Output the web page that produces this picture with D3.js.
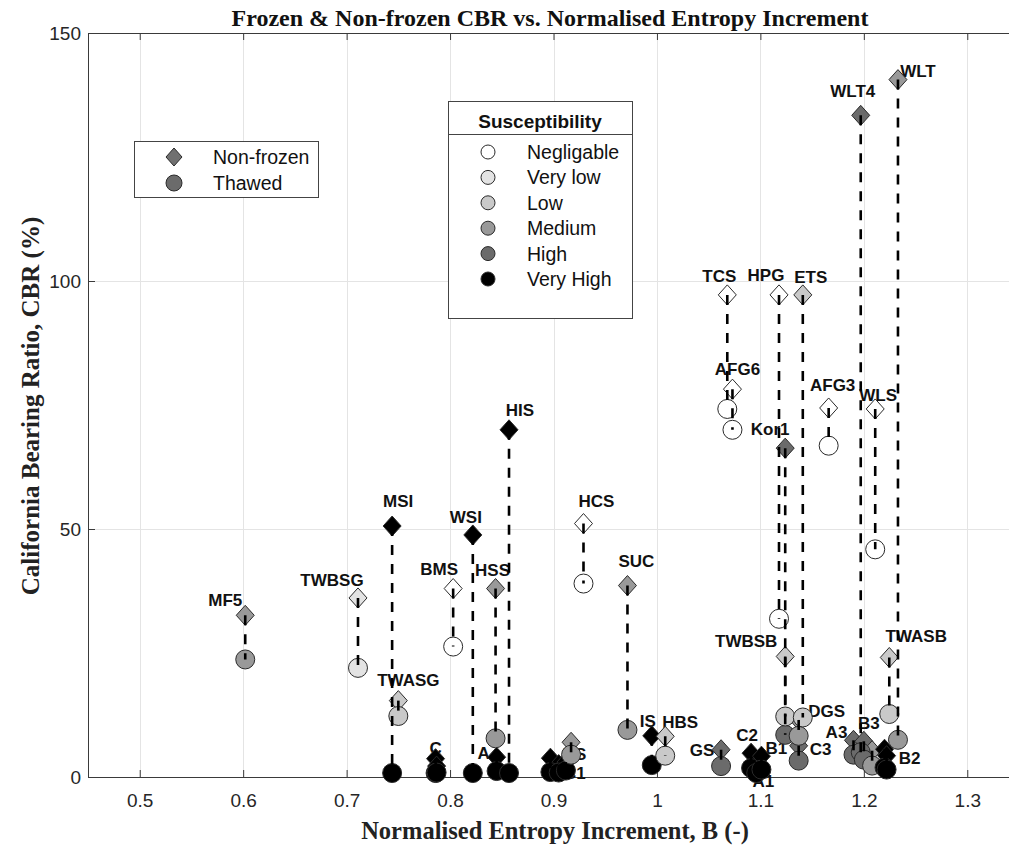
<!DOCTYPE html>
<html>
<head>
<meta charset="utf-8">
<script src="https://cdn.jsdelivr.net/npm/d3@7"></script>
<style>
  body { margin: 0; background: #fff; }
  svg { display: block; }
</style>
</head>
<body>
<svg id="chart" width="1009" height="845"></svg>
<script>
// ---- Data -------------------------------------------------------------
const sampleNames = ["MF5","TWBSG","MSI","TWASG","C","","BMS","WSI","HSS","A","HIS",
  "","","C1","VS","HCS","SUC","IS","HBS","GS","TCS","AFG6","C2","A1","B1","HPG",
  "Kor1","TWBSB","DGS","C3","ETS","AFG3","A3","WLT4","B3","","WLS","B2","","TWASB","WLT"];
const entropyB = [0.602,0.711,0.744,0.750,0.786,0.787,0.803,0.822,0.844,0.845,0.857,
  0.897,0.905,0.912,0.917,0.929,0.9715,0.995,1.008,1.062,1.068,1.073,1.091,1.096,1.101,1.118,
  1.124,1.124,1.137,1.137,1.141,1.166,1.190,1.197,1.200,1.208,1.211,1.220,1.222,1.2246,1.233];
const cbrNonFrozen = [32.6,36.1,50.6,15.4,3.7,2.2,38.0,48.8,38.0,4.0,70.0,
  3.8,2.5,3.0,7.0,51.1,38.6,8.3,8.2,5.5,97.2,78.2,4.8,3.0,4.2,97.2,
  66.3,24.3,11.5,6.3,97.2,74.4,7.4,133.4,7.2,5.3,74.2,5.6,4.3,24.1,140.6];
const cbrThawed = [23.7,22.0,0.8,12.3,0.8,0.9,26.3,0.8,7.8,1.2,0.8,
  1.0,0.9,1.3,4.5,39.0,9.5,2.4,4.3,2.2,74.2,70.0,1.8,0.8,1.5,31.9,
  8.5,12.2,8.3,3.3,12.0,66.8,4.5,5.0,3.5,2.3,45.9,1.9,1.5,12.7,7.5];
// index into susceptibilityClasses
const susceptibility = [3,1,5,2,5,5,0,5,3,5,5,
  5,5,5,3,0,3,5,2,4,0,0,5,5,5,0,
  4,2,3,4,2,0,4,4,4,3,0,5,5,2,3];
const susceptibilityClasses = ["Negligable","Very low","Low","Medium","High","Very High"];
const markerTypes = ["Non-frozen","Thawed"];

const xTicks = [0.5,0.6,0.7,0.8,0.9,1.0,1.1,1.2,1.3];
const xTickLabels = ["0.5","0.6","0.7","0.8","0.9","1","1.1","1.2","1.3"];
const yTicks = [0,50,100,150];
const yTickLabels = ["0","50","100","150"];

// ---- Layout / style ---------------------------------------------------
const fills = ["#ffffff","#e3e3e3","#c9c9c9","#999999","#6b6b6b","#000000"];
// label anchor nudges (px) relative to the non-frozen marker
const labelNudge = {
  MF5:[-20,-9], TWBSG:[-26,-12], MSI:[6,-19], TWASG:[10,-15], C:[0,-5], BMS:[-14,-14],
  WSI:[-7,-12], HSS:[-3,-13], A:[-13,2], HIS:[11,-14], C1:[9,17], VS:[4,18],
  HCS:[13,-17], SUC:[9,-19], IS:[-4,-9], HBS:[15,-8], GS:[-19,6], TCS:[-8,-13],
  AFG6:[5,-14], C2:[-4,-12], A1:[7,25], B1:[15,-2], HPG:[-13,-14], Kor1:[-15,-13],
  TWBSB:[-39,-9], DGS:[28,-3], C3:[22,9], ETS:[8,-12], AFG3:[4,-17], A3:[-17,-2],
  WLT4:[-8,-18], B3:[5,-12], WLS:[3,-8], B2:[25,15], TWASB:[27,-15], WLT:[20,-3]
};

const svg = d3.select("#chart");
const plot = { left: 88, right: 1019, top: 33, bottom: 777 };

const x = d3.scaleLinear().domain([0.45, 1.35]).range([plot.left, plot.right]);
const y = d3.scaleLinear().domain([0, 150]).range([plot.bottom, plot.top]);

const samples = sampleNames.map((n, i) => ({
  name: n, b: entropyB[i], nf: cbrNonFrozen[i], th: cbrThawed[i], s: susceptibility[i]
}));

const sans = "'Liberation Sans', Arial, Helvetica, sans-serif";
const serif = "'Liberation Serif', 'Times New Roman', serif";
const diamond = (hw, hh) => `M0,${-hh}L${hw},0L0,${hh}L${-hw},0Z`;

// ---- Grid ------------------------------------------------------------
const grid = svg.append("g").attr("stroke", "#e4e4e4").attr("stroke-width", 1);
grid.selectAll("line.vx").data(xTicks).join("line")
  .attr("x1", d => Math.round(x(d)) + 0.5).attr("x2", d => Math.round(x(d)) + 0.5)
  .attr("y1", plot.top).attr("y2", plot.bottom);
grid.selectAll("line.hy").data(yTicks.filter(d => d > 0 && d < 150)).join("line")
  .attr("y1", d => Math.round(y(d)) + 0.5).attr("y2", d => Math.round(y(d)) + 0.5)
  .attr("x1", plot.left).attr("x2", plot.right);

// ---- Axes ------------------------------------------------------------
const axisColor = "#3a3a3a";
const gx = svg.append("g").attr("transform", `translate(0,${plot.bottom})`)
  .call(d3.axisBottom(x).tickValues(xTicks).tickFormat((d, i) => xTickLabels[i])
    .tickSizeInner(-7).tickSizeOuter(0).tickPadding(17));
const gxTop = svg.append("g").attr("transform", `translate(0,${plot.top})`)
  .call(d3.axisTop(x).tickValues(xTicks).tickFormat("").tickSizeInner(-7).tickSizeOuter(0));
const gy = svg.append("g").attr("transform", `translate(${plot.left},0)`)
  .call(d3.axisLeft(y).tickValues(yTicks).tickFormat((d, i) => yTickLabels[i])
    .tickSizeInner(-7).tickSizeOuter(0).tickPadding(7));
[gx, gxTop, gy].forEach(g => {
  g.select(".domain").attr("stroke", axisColor);
  g.selectAll(".tick line").attr("stroke", axisColor);
  g.selectAll(".tick text").attr("fill", "#262626")
    .style("font-family", sans).style("font-size", "19px");
});

// ---- Titles ----------------------------------------------------------
svg.append("text").attr("x", 550).attr("y", 26).attr("text-anchor", "middle")
  .style("font-family", serif).style("font-weight", "bold").style("font-size", "24px")
  .attr("fill", "#111")
  .text("Frozen & Non-frozen CBR vs. Normalised Entropy Increment");
svg.append("text").attr("x", 555).attr("y", 839).attr("text-anchor", "middle")
  .style("font-family", serif).style("font-weight", "bold").style("font-size", "24.5px")
  .attr("fill", "#222")
  .text("Normalised Entropy Increment, B (-)");
svg.append("text").attr("transform", "translate(39,406) rotate(-90)").attr("text-anchor", "middle")
  .style("font-family", serif).style("font-weight", "bold").style("font-size", "25px")
  .attr("fill", "#222")
  .text("California Bearing Ratio, CBR (%)");

// ---- Sample labels (under the marks) ---------------------------------
svg.append("g").selectAll("text").data(samples.filter(d => d.name)).join("text")
  .attr("x", d => x(d.b) + (labelNudge[d.name] || [0, -12])[0])
  .attr("y", d => y(d.nf) + (labelNudge[d.name] || [0, -12])[1])
  .attr("text-anchor", "middle")
  .style("font-family", sans).style("font-weight", "bold").style("font-size", "17px")
  .attr("fill", "#111")
  .text(d => d.name);

// ---- Marks -----------------------------------------------------------
const edge = "#2a2a2a";
svg.append("g").selectAll("path").data(samples).join("path")
  .attr("d", diamond(9, 10))
  .attr("transform", d => `translate(${x(d.b)},${y(d.nf)})`)
  .attr("fill", d => fills[d.s]).attr("stroke", edge).attr("stroke-width", 1);
svg.append("g").selectAll("circle").data(samples).join("circle")
  .attr("cx", d => x(d.b)).attr("cy", d => y(d.th)).attr("r", 9.5)
  .attr("fill", d => fills[d.s]).attr("stroke", edge).attr("stroke-width", 1);
svg.append("g").selectAll("line").data(samples).join("line")
  .attr("x1", d => x(d.b)).attr("x2", d => x(d.b))
  .attr("y1", d => y(d.nf)).attr("y2", d => y(d.th))
  .attr("stroke", "#000").attr("stroke-width", 2.6).attr("stroke-dasharray", "10,9");

// ---- Legend: marker type ---------------------------------------------
const lg1 = svg.append("g");
lg1.append("rect").attr("x", 134.5).attr("y", 141.5).attr("width", 184).attr("height", 56)
  .attr("fill", "#fff").attr("stroke", "#444");
markerTypes.forEach((t, i) => {
  const cy = 157 + i * 26;
  if (i === 0) {
    lg1.append("path").attr("d", diamond(8, 9)).attr("transform", `translate(174,${cy})`)
      .attr("fill", "#707070").attr("stroke", edge);
  } else {
    lg1.append("circle").attr("cx", 174).attr("cy", cy).attr("r", 8)
      .attr("fill", "#6b6b6b").attr("stroke", edge);
  }
  lg1.append("text").attr("x", 213).attr("y", cy + 7)
    .style("font-family", sans).style("font-size", "19.5px").attr("fill", "#111").text(t);
});

// ---- Legend: susceptibility ------------------------------------------
const lg2 = svg.append("g");
lg2.append("rect").attr("x", 448.5).attr("y", 101.5).attr("width", 184).attr("height", 217)
  .attr("fill", "#fff").attr("stroke", "#444");
lg2.append("line").attr("x1", 448.5).attr("x2", 632.5).attr("y1", 134.5).attr("y2", 134.5)
  .attr("stroke", "#444");
lg2.append("text").attr("x", 540).attr("y", 128).attr("text-anchor", "middle")
  .style("font-family", sans).style("font-weight", "bold").style("font-size", "19px")
  .attr("fill", "#111").text("Susceptibility");
susceptibilityClasses.forEach((c, i) => {
  const cy = 152 + i * 25.4;
  lg2.append("circle").attr("cx", 488).attr("cy", cy).attr("r", 7)
    .attr("fill", fills[i]).attr("stroke", edge);
  lg2.append("text").attr("x", 527).attr("y", cy + 7)
    .style("font-family", sans).style("font-size", "19.5px").attr("fill", "#111").text(c);
});
</script>
</body>
</html>
